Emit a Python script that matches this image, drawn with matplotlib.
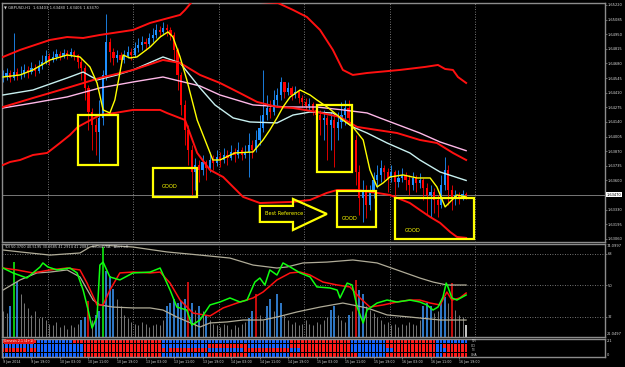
import numpy as np
import matplotlib
matplotlib.use("Agg")
import matplotlib.pyplot as plt
from matplotlib.patches import Rectangle, Polygon

plt.rcParams['font.family'] = ['DejaVu Sans']

# ---------------- data ----------------
title_text = "\u25bc GBPUSD,H1  1.63403 1.63480 1.63406 1.63470"
tdi_text = "TDI 50.3700 40.5195 30.6685 41.2914 41.2084   SoundVSA   Alert off"
genesis_text = "Genesis 2.1 (4+1)"

first_open = 1.64555
close = [1.64564, 1.64592, 1.64546, 1.64601, 1.64574, 1.64583, 1.64620, 1.64601, 1.64638, 1.64611,
         1.64657, 1.64694, 1.64749, 1.64712, 1.64740, 1.64768, 1.64749, 1.64777, 1.64758, 1.64786,
         1.64758, 1.64694, 1.64638, 1.64454, 1.64232, 1.64112, 1.64048, 1.64177, 1.64574, 1.64878,
         1.64786, 1.64731, 1.64758, 1.64712, 1.64749, 1.64786, 1.64758, 1.64823, 1.64851, 1.64878,
         1.64860, 1.64915, 1.64943, 1.64989, 1.64971, 1.65008, 1.64989, 1.64943, 1.64805, 1.64574,
         1.64297, 1.64066, 1.63882, 1.63678, 1.63743, 1.63697, 1.63771, 1.63715, 1.63789, 1.63761,
         1.63817, 1.63789, 1.63835, 1.63808, 1.63863, 1.63835, 1.63882, 1.63835, 1.63863, 1.63928,
         1.63882, 1.63974, 1.64085, 1.64204, 1.64269, 1.64232, 1.64343, 1.64389, 1.64509, 1.64417,
         1.64454, 1.64389, 1.64417, 1.64361, 1.64325, 1.64288, 1.64306, 1.64251, 1.64204, 1.64158,
         1.64177, 1.64112, 1.64158, 1.64085, 1.64140, 1.64204, 1.64269, 1.64177, 1.63974, 1.63678,
         1.63438, 1.63512, 1.63374, 1.63494, 1.63605, 1.63651, 1.63715, 1.63678, 1.63623, 1.63678,
         1.63586, 1.63623, 1.63651, 1.63605, 1.63558, 1.63623, 1.63577, 1.63605, 1.63531, 1.63466,
         1.63494, 1.63420, 1.63374, 1.63558, 1.63697, 1.63512, 1.63438, 1.63466, 1.63448, 1.63475,
         1.63470]
high = [1.64620, 1.64638, 1.64620, 1.64961, 1.64638, 1.64657, 1.64675, 1.64657, 1.64694, 1.64675,
        1.64712, 1.64758, 1.64805, 1.64777, 1.64795, 1.64814, 1.64795, 1.64814, 1.64805, 1.64823,
        1.64805, 1.64768, 1.64731, 1.64666, 1.64482, 1.64269, 1.64177, 1.64343, 1.64620, 1.65137,
        1.64915, 1.64823, 1.64805, 1.64786, 1.64805, 1.64841, 1.64823, 1.64878, 1.64915, 1.64934,
        1.64915, 1.64961, 1.65008, 1.65044, 1.65026, 1.65063, 1.65044, 1.65017, 1.64971, 1.64823,
        1.64601, 1.64343, 1.64112, 1.63928, 1.63808, 1.63789, 1.63835, 1.63789, 1.63863, 1.63835,
        1.63882, 1.63863, 1.63900, 1.63882, 1.63928, 1.63900, 1.63955, 1.63909, 1.63928, 1.64038,
        1.63974, 1.64066, 1.64204, 1.64620, 1.64389, 1.64343, 1.64435, 1.64454, 1.64555, 1.64509,
        1.64509, 1.64472, 1.64472, 1.64435, 1.64389, 1.64361, 1.64361, 1.64325, 1.64278, 1.64251,
        1.64251, 1.64204, 1.64232, 1.64204, 1.64232, 1.64325, 1.64343, 1.64343, 1.64204, 1.64020,
        1.63743, 1.63605, 1.63558, 1.63558, 1.63678, 1.63743, 1.63789, 1.63743, 1.63715, 1.63743,
        1.63697, 1.63697, 1.63715, 1.63678, 1.63651, 1.63678, 1.63651, 1.63669, 1.63623, 1.63577,
        1.63558, 1.63531, 1.63466, 1.63651, 1.63817, 1.63743, 1.63558, 1.63512, 1.63494, 1.63512,
        1.63494]
low = [1.64509, 1.64528, 1.64509, 1.64528, 1.64528, 1.64537, 1.64555, 1.64546, 1.64583, 1.64564,
       1.64592, 1.64629, 1.64675, 1.64666, 1.64694, 1.64712, 1.64712, 1.64731, 1.64721, 1.64740,
       1.64712, 1.64638, 1.64528, 1.64343, 1.64066, 1.63882, 1.63835, 1.63771, 1.64112, 1.64528,
       1.64694, 1.64666, 1.64694, 1.64657, 1.64685, 1.64731, 1.64712, 1.64740, 1.64786, 1.64805,
       1.64805, 1.64832, 1.64878, 1.64915, 1.64924, 1.64952, 1.64934, 1.64897, 1.64694, 1.64435,
       1.64204, 1.63928, 1.63743, 1.63466, 1.63512, 1.63586, 1.63651, 1.63605, 1.63678, 1.63697,
       1.63734, 1.63725, 1.63761, 1.63743, 1.63789, 1.63771, 1.63808, 1.63789, 1.63808, 1.63632,
       1.63808, 1.63863, 1.63928, 1.64048, 1.64158, 1.64177, 1.64204, 1.64297, 1.64343, 1.64361,
       1.64389, 1.64343, 1.64361, 1.64315, 1.64278, 1.64251, 1.64251, 1.64204, 1.64140, 1.64020,
       1.63974, 1.63789, 1.63882, 1.63725, 1.63974, 1.64085, 1.64112, 1.64112, 1.63882, 1.63558,
       1.63282, 1.63217, 1.63254, 1.63328, 1.63438, 1.63531, 1.63586, 1.63605, 1.63494, 1.63586,
       1.63420, 1.63540, 1.63586, 1.63512, 1.63466, 1.63512, 1.63494, 1.63531, 1.63420, 1.63282,
       1.63263, 1.63300, 1.63263, 1.63346, 1.63512, 1.63374, 1.63328, 1.63374, 1.63383, 1.63420,
       1.63429]

# main-chart indicator lines: (bar index, price)
bb_up_i = [0, 4.8, 13.2, 18, 22.5, 27.2, 36.5, 41.3, 49.7, 51.1, 53, 59.5, 65.1, 71.6, 77.2, 81.4, 85.3,
           89, 92.6, 95.4, 98.2, 102.2, 111.4, 118.5, 122.1, 124.1, 126.3, 127.7, 130]
bb_up_v = [1.64740, 1.64805, 1.64897, 1.64924, 1.64915, 1.64943, 1.64989, 1.65054, 1.65128, 1.65174,
           1.65248, 1.65377, 1.65404, 1.65248, 1.65238, 1.65174, 1.65109, 1.64989, 1.64805, 1.64620,
           1.64574, 1.64592, 1.64620, 1.64648, 1.64666, 1.64629, 1.64620, 1.64555, 1.64500]
bb_mid_i = [0, 8.4, 18, 27.2, 36.5, 44.9, 49.7, 55.3, 60.9, 66.5, 71.3, 76.9, 81.4, 88.1, 94.6, 99.4,
            105, 110.6, 117, 121.8, 126.3, 130]
bb_mid_v = [1.64278, 1.64361, 1.64454, 1.64546, 1.64620, 1.64712, 1.64685, 1.64574, 1.64500, 1.64407,
            1.64325, 1.64278, 1.64269, 1.64232, 1.64186, 1.64094, 1.64066, 1.64038, 1.63974, 1.63946,
            1.63854, 1.63789]
bb_lo_i = [0, 2, 4.8, 8.4, 12.4, 16, 18.8, 21, 27.2, 31.4, 36.5, 44.1, 46, 51.1, 54.5, 58.1, 61.8, 67.4,
           72.1, 81.4, 86.2, 90.9, 93.8, 99.4, 105, 108.6, 114.2, 117, 119.9, 122.7, 125.5, 127.4, 130]
bb_lo_v = [1.63743, 1.63771, 1.63789, 1.63835, 1.63854, 1.63946, 1.64020, 1.64094, 1.64204, 1.64223,
           1.64251, 1.64251, 1.64223, 1.64158, 1.63854, 1.63697, 1.63632, 1.63448, 1.63392, 1.63402,
           1.63420, 1.63485, 1.63512, 1.63512, 1.63485, 1.63466, 1.63392, 1.63328, 1.63263, 1.63208,
           1.63125, 1.63079, 1.63070]
pink_i = [0, 8.4, 18, 27.2, 36.5, 44.9, 55.3, 60.9, 70.2, 79.7, 88.1, 95.4, 102.2, 105.8, 117, 122.7, 130]
pink_v = [1.64269, 1.64315, 1.64371, 1.64454, 1.64509, 1.64555, 1.64472, 1.64389, 1.64297, 1.64278,
          1.64278, 1.64251, 1.64223, 1.64177, 1.64038, 1.63955, 1.63875]
cyan_i = [0, 8.4, 18, 22.5, 26.4, 32, 36.5, 44.9, 49.7, 55.3, 59.5, 64.6, 69.3, 76.9, 81.4, 86.2, 92.6,
          98.2, 102.2, 107.8, 114.2, 117, 122.7, 130]
cyan_v = [1.64389, 1.64435, 1.64546, 1.64601, 1.64528, 1.64574, 1.64620, 1.64740, 1.64685, 1.64454,
          1.64297, 1.64177, 1.64140, 1.64131, 1.64204, 1.64232, 1.64223, 1.64094, 1.64038, 1.63946,
          1.63854, 1.63789, 1.63678, 1.63600]
yel_i = [0, 4.8, 8.4, 13.2, 18, 21.6, 24.4, 26.4, 28.1, 30, 31.4, 32.8, 33.7, 35.6, 37.6, 41.3, 44.1,
         46.3, 47.7, 49.7, 51.6, 54.5, 56.7, 58.9, 60.9, 65.1, 70.2, 73, 74.9, 76.9, 78.6, 80.6, 83.4,
         86.2, 88.1, 91, 93.8, 95.4, 98.2, 101.1, 103, 105, 106.7, 108.6, 112.3, 116.2, 119.9, 121.8,
         124.1, 125.5, 127.4, 130]
yel_v = [1.64555, 1.64574, 1.64620, 1.64712, 1.64758, 1.64740, 1.64648, 1.64500, 1.64251, 1.64223,
         1.64343, 1.64592, 1.64758, 1.64731, 1.64740, 1.64832, 1.64924, 1.64971, 1.64924, 1.64740,
         1.64528, 1.64158, 1.63974, 1.63789, 1.63789, 1.63854, 1.63863, 1.63974, 1.64066, 1.64177,
         1.64278, 1.64371, 1.64435, 1.64389, 1.64343, 1.64278, 1.64204, 1.64158, 1.64094, 1.63974,
         1.63697, 1.63540, 1.63577, 1.63632, 1.63651, 1.63623, 1.63623, 1.63540, 1.63356, 1.63402,
         1.63466, 1.63448]

# TDI panel: (bar index, value)
tdi_green_i = [0, 2.8, 6.7, 8.4, 10.4, 11.2, 12.6, 15.2, 18.8, 20.8, 22.5, 23.9, 25, 26.4, 27.2, 28.1, 30,
               32.8, 36.5, 41.3, 44.1, 46.9, 48.8, 51.6, 53, 55.3, 58.1, 60.9, 63.7, 66.5, 68.5, 70.7,
               72.1, 73.5, 74.9, 76.9, 78.6, 80.6, 83.4, 86.2, 88.1, 91.8, 93.8, 94.6, 96.6, 98, 99.4,
               101.1, 102.2, 105, 107.8, 110.6, 114.2, 117, 119, 120.7, 122.1, 123.5, 124.4, 124.9, 126,
               127.4, 130]
tdi_green_v = [59.7, 56.9, 54.0, 56.9, 60.3, 62.6, 60.3, 58.6, 59.7, 56.9, 47.1, 35.7, 25.4, 31.7, 61.4,
               63.1, 54.6, 52.9, 56.9, 57.4, 59.7, 47.1, 37.4, 35.7, 27.1, 30.0, 38.6, 40.3, 42.6, 40.3,
               41.4, 51.7, 54.0, 50.0, 58.6, 55.7, 62.6, 60.3, 56.9, 54.6, 48.9, 48.3, 47.1, 42.6, 51.1,
               50.0, 37.4, 28.3, 35.7, 39.7, 41.4, 40.3, 41.4, 40.3, 38.6, 35.7, 37.4, 43.1, 51.1, 48.9,
               42.6, 41.4, 44.3]
tdi_red_i = [0, 3.9, 8.4, 13.2, 18, 21.6, 23.6, 26.4, 28.1, 30, 32.8, 36.5, 41.3, 44.1, 46.9, 49.7, 53.3,
             58.1, 61.8, 65.7, 70.2, 73, 76.9, 80.6, 83.4, 86.2, 89.8, 93.8, 97.4, 100.2, 103, 106.7,
             110.6, 114.2, 117, 119.9, 122.7, 124.6, 126, 128.2, 130]
tdi_red_v = [59.7, 58.6, 56.9, 58.6, 59.7, 58.6, 51.1, 38.6, 38.6, 47.1, 56.9, 57.4, 56.9, 57.4, 51.1,
             41.4, 34.0, 32.3, 36.9, 39.7, 42.6, 46.0, 52.9, 56.9, 57.4, 55.7, 51.7, 50.0, 48.9, 42.6,
             37.4, 38.6, 40.3, 41.4, 41.4, 39.7, 38.6, 46.0, 41.4, 42.6, 45.4]
tdi_up_i = [0, 4.8, 13.2, 21.6, 24.4, 27.2, 36.5, 46, 55.3, 63.7, 70.2, 76.9, 79.7, 84.2, 90.9, 98.2,
            105, 110.6, 117, 120.7, 124.6, 130]
tdi_up_v = [70.0, 68.9, 67.1, 68.3, 71.7, 72.9, 71.7, 68.9, 67.1, 65.4, 61.4, 59.7, 60.3, 62.6, 63.1,
            64.3, 62.6, 58.6, 54.0, 51.7, 50.0, 50.0]
tdi_lo_i = [0, 4.8, 9.5, 13.2, 18, 21.6, 25.3, 27.2, 30.9, 36.5, 41.3, 44.9, 48.8, 55.3, 58.1, 62.9,
            67.4, 73, 76.9, 82.5, 89, 95.4, 102.2, 107.8, 114.2, 122.7, 130]
tdi_lo_v = [47.1, 52.9, 56.9, 57.4, 58.6, 54.6, 41.4, 38.6, 37.4, 36.9, 36.9, 35.7, 31.7, 26.0, 28.3,
            28.9, 30.0, 30.0, 31.7, 34.6, 37.4, 39.7, 36.9, 32.9, 31.7, 30.0, 30.0]
hist = [35, 34, 38, 63, 52, 45, 40, 37, 33, 35, 31, 32, 30, 28, 27, 29, 26, 27, 25, 27,
        26, 28, 30, 32, 41, 30, 33, 35, 72, 58, 55, 48, 42, 38, 33, 31, 29, 28, 27, 29,
        28, 26, 27, 28, 27, 30, 38, 40, 42, 40, 41, 42, 52, 40, 36, 38, 35, 33, 30, 28,
        27, 26, 28, 27, 25, 27, 26, 28, 29, 31, 35, 45, 33, 30, 38, 42, 35, 45, 40, 33,
        30, 28, 29, 27, 28, 30, 28, 27, 29, 28, 30, 32, 36, 38, 33, 30, 29, 33, 35, 53,
        47, 45, 38, 36, 34, 32, 30, 28, 29, 27, 28, 26, 28, 27, 29, 28, 27, 30, 38, 40,
        38, 34, 35, 41, 43, 40, 51, 36, 33, 32, 27]
hist_color_runs = [("g", 2), ("b", 1), ("G", 1), ("b", 1), ("g", 17), ("b", 2), ("r", 1), ("g", 1),
                   ("b", 2), ("G", 1), ("b", 3), ("g", 14), ("b", 6), ("r", 1), ("b", 1), ("g", 1),
                   ("b", 1), ("g", 1), ("b", 1), ("g", 11), ("b", 2), ("r", 1), ("g", 2), ("b", 2),
                   ("g", 1), ("b", 2), ("g", 13), ("b", 2), ("g", 3), ("b", 1), ("g", 1), ("r", 1),
                   ("b", 2), ("g", 16), ("b", 3), ("g", 2), ("b", 2), ("g", 1), ("r", 1), ("g", 3),
                   ("w", 1)]

# Genesis matrix rows (run lengths of blue/red squares)
genesis_names = ["TVI", "CCI", "T3", "GHA"]
genesis_rows = [
    [("r", 10), ("b", 10), ("r", 25), ("b", 36), ("r", 17), ("b", 10), ("r", 14), ("b", 9)],
    [("b", 23), ("r", 22), ("b", 13), ("r", 11), ("b", 12), ("r", 17), ("b", 10), ("r", 14), ("b", 2), ("r", 7)],
    [("r", 7), ("b", 1), ("r", 2), ("b", 13), ("r", 23), ("b", 1), ("r", 11), ("b", 10), ("r", 13), ("b", 3),
     ("r", 14), ("b", 12), ("r", 12), ("b", 3), ("r", 6)],
    [("b", 23), ("r", 22), ("b", 13), ("r", 11), ("b", 12), ("r", 19), ("b", 8), ("r", 14), ("b", 2), ("r", 7)],
]

price_ticks = [1.65220, 1.65085, 1.64950, 1.64815, 1.64680, 1.64545, 1.64410, 1.64275, 1.64140,
               1.64005, 1.63870, 1.63735, 1.63600, 1.63330, 1.63195, 1.63060]
time_idx = [0, 8, 16, 24, 32, 40, 48, 56, 64, 72, 80, 88, 96, 104, 112, 120, 128]
time_labels = ["9 Jan 2014", "9 Jan 19:00", "10 Jan 03:00", "10 Jan 11:00", "10 Jan 19:00",
               "13 Jan 03:00", "13 Jan 11:00", "13 Jan 19:00", "14 Jan 03:00", "14 Jan 11:00",
               "14 Jan 19:00", "15 Jan 03:00", "15 Jan 11:00", "15 Jan 19:00", "16 Jan 03:00",
               "16 Jan 11:00", "16 Jan 19:00"]
grid_idx = [12.5, 36.5, 60.5, 84.5, 108.5, 132.5]
tdi_levels = [68, 50, 32]

# annotation shapes drawn on the screenshot: (bar index, price)
boxes = [(21.0, 1.63743, 32.3, 1.64204), (42.1, 1.63448, 54.5, 1.63715),
         (88.1, 1.63678, 98.0, 1.64297), (93.8, 1.63171, 104.7, 1.63503),
         (110.0, 1.63060, 132.2, 1.63438)]
good_labels = [(46.9, 1.63540), (97.4, 1.63245), (115.0, 1.63134)]
arrow_poly = [(72.1, 1.63365), (81.4, 1.63365), (81.4, 1.63429), (90.9, 1.63291),
              (81.4, 1.63143), (81.4, 1.63217), (72.1, 1.63217)]
arrow_text_pos = (73.6, 1.63291)

# ---------------- drawing ----------------
W, H = 625, 367
fig = plt.figure(figsize=(W / 100, H / 100), dpi=100, facecolor='black')


def axrect(x0, y0, x1, y1):
    return [x0 / W, 1 - y1 / H, (x1 - x0) / W, (y1 - y0) / H]


ax = fig.add_axes(axrect(2, 3, 605, 242))
ax2 = fig.add_axes(axrect(2, 244, 605, 337))
ax3 = fig.add_axes(axrect(2, 339, 605, 357))
XL = (-0.28, 168.98)
SP = '#8c8c8c'
TXT = '#d8d8d8'
FS_AX = 2.6
for a in (ax, ax2, ax3):
    a.set_facecolor('black')
    a.set_xlim(*XL)
    for s in a.spines.values():
        s.set_color(SP)
        s.set_linewidth(1.0)
    a.tick_params(axis='both', colors=SP, labelcolor=TXT, labelsize=FS_AX, length=1.5, width=0.5, pad=0.6)
    a.yaxis.tick_right()
ax.set_xticks([])
ax2.set_xticks([])

# main chart
ax.set_ylim(1.63032, 1.65238)
for g in grid_idx:
    for a in (ax, ax2):
        a.axvline(g, color='#9a9a9a', lw=0.6, ls=(0, (1, 2)), zorder=0)
idx = np.arange(len(close))
c = np.array(close)
o = np.r_[first_open, c[:-1]]
hi = np.maximum(np.array(high), np.maximum(o, c))
lo = np.minimum(np.array(low), np.minimum(o, c))
bull = c >= o
col = np.where(bull, '#1e90ff', '#ff0000')
ax.axhline(c[-1], color='#8a8a8a', lw=0.6, zorder=1)
ax.vlines(idx, lo, hi, colors=col, lw=0.6, zorder=2)
body = np.maximum(np.abs(c - o), 0.00003)
ax.bar(idx, body, bottom=np.minimum(o, c), width=0.62, color=col, lw=0, zorder=3)

ax.plot(pink_i, pink_v, color='#ffb8e8', lw=1.0, zorder=4)
ax.plot(cyan_i, cyan_v, color='#c8f0f0', lw=1.0, zorder=4)
ax.plot(bb_mid_i, bb_mid_v, color='#ff1010', lw=1.4, zorder=4)
ax.plot(bb_up_i, bb_up_v, color='#ff1010', lw=1.4, zorder=4)
ax.plot(bb_lo_i, bb_lo_v, color='#ff1010', lw=1.4, zorder=4)
ax.plot(yel_i, yel_v, color='#ffff00', lw=1.0, zorder=5)

for (x0, y0, x1, y1) in boxes:
    ax.add_patch(Rectangle((x0, y0), x1 - x0, y1 - y0, fill=False, ec='#ffff00', lw=1.6, zorder=6, clip_on=False))
for (gx, gy) in good_labels:
    ax.text(gx, gy, "GOOD", color='#ffff00', fontsize=3.7, ha='center', va='center', zorder=7)
ax.add_patch(Polygon(arrow_poly, closed=True, fill=False, ec='#ffff00', lw=1.6, zorder=6))
ax.text(arrow_text_pos[0], arrow_text_pos[1], "Best Reference", color='#ffff00', fontsize=3.6,
        ha='left', va='center', zorder=7)

ax.set_yticks(price_ticks)
ax.set_yticklabels([f"{p:.5f}" for p in price_ticks])
ax.text(1.003, c[-1], f"{c[-1]:.5f}", transform=ax.get_yaxis_transform(), fontsize=FS_AX, color='black',
        va='center', ha='left', bbox=dict(boxstyle='square,pad=0.15', fc='white', ec='none'), zorder=8,
        clip_on=False)
ax.text(0.004, 0.988, title_text, transform=ax.transAxes, color=TXT, fontsize=2.7, va='top', ha='left')

# TDI panel
ax2.set_ylim(20.29, 73.43)
for lv in tdi_levels:
    ax2.axhline(lv, color='#9a9a9a', lw=0.6, ls=(0, (1, 2)), zorder=0)
hcols = [ch for ch, n in hist_color_runs for _ in range(n)]
cmap = {'g': '#8a8a8a', 'b': '#3d9bff', 'r': '#ff1010', 'G': '#10ff10', 'w': '#ffffff'}
lwmap = {'g': 0.6, 'b': 1.1, 'r': 1.1, 'G': 1.1, 'w': 1.1}
for i, (hv, ch) in enumerate(zip(hist, hcols)):
    ax2.vlines(i, 20.29, hv, colors=cmap[ch], lw=lwmap[ch], zorder=1)
ax2.plot(tdi_up_i, tdi_up_v, color='#b0ac98', lw=0.9, zorder=2)
ax2.plot(tdi_lo_i, tdi_lo_v, color='#b0ac98', lw=0.9, zorder=2)
ax2.plot(tdi_red_i, tdi_red_v, color='#ff1010', lw=1.1, zorder=3)
ax2.plot(tdi_green_i, tdi_green_v, color='#10ff10', lw=1.1, zorder=4)
ax2.set_yticks(tdi_levels)
ax2.set_yticklabels([str(v) for v in tdi_levels])
ax2.text(1.003, 0.995, "74.0997", transform=ax2.transAxes, fontsize=FS_AX, color=TXT, va='top', ha='left')
ax2.text(1.003, 0.01, "21.0497", transform=ax2.transAxes, fontsize=FS_AX, color=TXT, va='bottom', ha='left')
ax2.text(0.004, 0.985, tdi_text, transform=ax2.transAxes, color=TXT, fontsize=2.5, va='top', ha='left')

# Genesis panel
ax3.set_ylim(0, 4)
for r, runs in enumerate(genesis_rows):
    cols = [ch for ch, n in runs for _ in range(n)]
    yc = 3.5 - r
    ax3.bar(np.arange(len(cols)), 0.78, bottom=yc - 0.39, width=0.72,
            color=['#1464ff' if ch == 'b' else '#ff1a1a' for ch in cols], lw=0)
    ax3.text(131.3, yc, genesis_names[r], color=TXT, fontsize=2.2, va='center', ha='left')
ax3.text(0.4, 3.5, genesis_text, color='white', fontsize=2.3, va='center', ha='left',
         bbox=dict(boxstyle='square,pad=0.1', fc='#e01010', ec='none'))
ax3.set_yticks([])
ax3.text(1.003, 0.98, "2.1", transform=ax3.transAxes, fontsize=FS_AX, color=TXT, va='top', ha='left')
ax3.text(1.003, 0.02, "0", transform=ax3.transAxes, fontsize=FS_AX, color=TXT, va='bottom', ha='left')
ax3.set_xticks(time_idx)
ax3.set_xticklabels(time_labels)
ax3.tick_params(axis='x', labelsize=2.3)
for lab in ax3.get_xticklabels():
    lab.set_ha('left')

fig.savefig("out.png", dpi=100, facecolor='black')
